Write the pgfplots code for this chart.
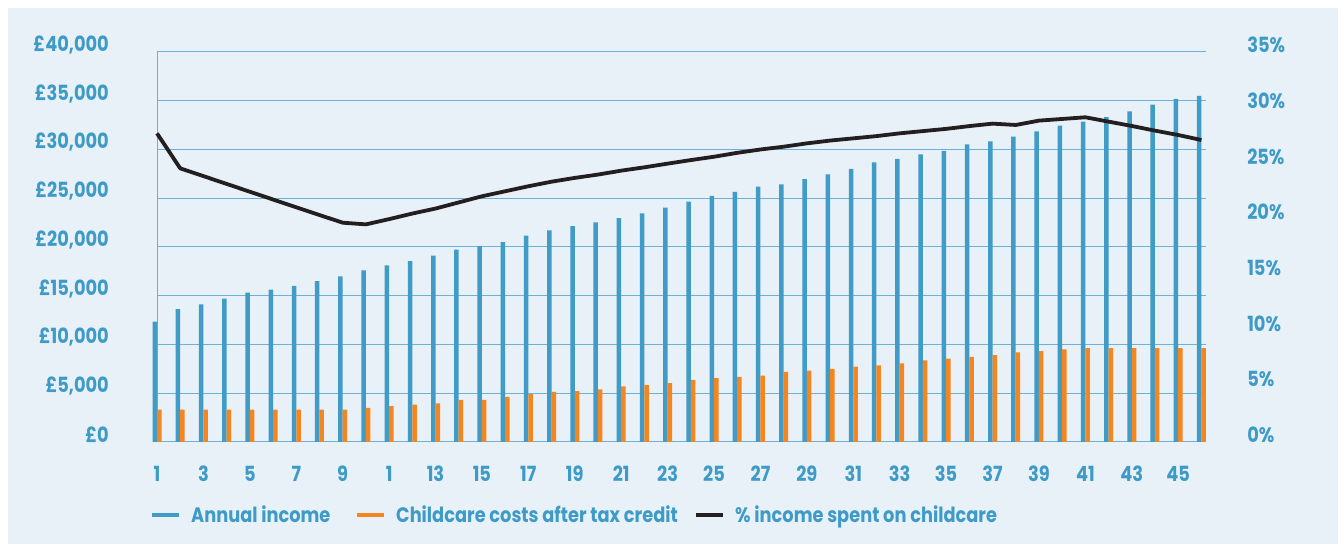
\documentclass[border=0pt]{standalone}
\usepackage{pgfplots}
\usepackage{pgfplotstable}
\pgfplotsset{compat=1.18}
\usepackage{fontspec}
\setmainfont{Poppins}[FakeStretch=0.85]
\definecolor{bg}{RGB}{232,241,247}
\definecolor{cblue}{RGB}{64,156,198}
\definecolor{ctext}{RGB}{62,155,199}
\definecolor{cgrid}{RGB}{107,178,214}
\definecolor{corange}{RGB}{245,134,31}
\definecolor{cline}{RGB}{35,31,32}
\pgfplotstableread{
cat inc care pct
1 12340 3310 27.7
2 13640 3310 24.56
3 14120 3310 23.86
4 14700 3310 23.16
5 15320 3310 22.46
6 15620 3310 21.76
7 16000 3310 21.06
8 16510 3310 20.37
9 16990 3310 19.68
10 17610 3490 19.53
11 18120 3690 20.0
12 18560 3830 20.5
13 19110 3970 20.95
14 19720 4310 21.5
15 20100 4310 22.05
16 20500 4620 22.5
17 21160 4920 22.95
18 21710 5130 23.36
19 22150 5230 23.7
20 22530 5400 24.0
21 22970 5710 24.35
22 23450 5850 24.65
23 24030 6050 24.98
24 24650 6360 25.3
25 25230 6560 25.6
26 25640 6670 25.95
27 26190 6800 26.25
28 26430 7180 26.5
29 26970 7320 26.8
30 27450 7490 27.05
31 28000 7730 27.25
32 28680 7860 27.45
33 29030 8070 27.7
34 29500 8380 27.9
35 29850 8550 28.1
36 30530 8720 28.35
37 30840 8920 28.57
38 31320 9200 28.45
39 31860 9330 28.84
40 32440 9510 28.99
41 32850 9640 29.14
42 33330 9640 28.75
43 33910 9640 28.36
44 34600 9640 27.94
45 35180 9640 27.55
46 35490 9640 27.1
}\datatable
\newcommand{\lblfont}{\fontsize{21}{24}\selectfont\bfseries}
\begin{document}
\begin{tikzpicture}[x=1bp,y=1bp]
\fill[white] (0,0) rectangle (1338,544);
\fill[bg] (8,0) rectangle (1338,536);
\begin{axis}[
  at={(157bp,102bp)}, anchor=south west,
  scale only axis, width=1049bp, height=390bp,
  xmin=1, xmax=46.2, ymin=0, ymax=40000,
  clip=false,
  scaled y ticks=false,
  axis x line*=bottom, axis y line*=left,
  axis line style={cgrid, line width=1bp, -},
  major tick length=0pt,
  ymajorgrids, grid style={cgrid, line width=1bp},
  ytick={0,5000,10000,15000,20000,25000,30000,35000,40000},
  yticklabels={{£0},{£5,000},{£10,000},{£15,000},{£20,000},{£25,000},{£30,000},{£35,000},{£40,000}},
  xtick={1,3,5,7,9,11,13,15,17,19,21,23,25,27,29,31,33,35,37,39,41,43,45},
  xticklabels={1,3,5,7,9,1,13,15,17,19,21,23,25,27,29,31,33,35,37,39,41,43,45},
  yticklabel style={font=\lblfont, text=ctext, anchor=east, inner sep=0pt, xshift=-48bp, yshift=7bp},
  xticklabel style={font=\lblfont, text=ctext, anchor=center, inner sep=0pt, yshift=-32bp},
  ybar=0pt, bar width=4.5bp,
  legend columns=3,
  legend style={at={(axis description cs:0,0)}, anchor=west, xshift=-7bp, yshift=-73bp,
    draw=none, fill=none, inner sep=0pt, font=\lblfont, text=ctext,
    nodes={inner sep=0pt},
    /tikz/every odd column/.append style={column sep=10bp},
    /tikz/every even column/.append style={column sep=0bp}},
]
\addplot[draw=none, fill=cblue,
  legend image code/.code={\draw[line width=4bp, cblue] (0bp,0bp) -- (27bp,0bp);}]
  table[x=cat, y=inc] {\datatable};
\addlegendentry{\makebox[164bp][l]{Annual income}}
\addplot[draw=none, fill=corange,
  legend image code/.code={\draw[line width=4bp, corange] (0bp,0bp) -- (27bp,0bp);}]
  table[x=cat, y=care] {\datatable};
\addlegendentry{\makebox[298bp][l]{Childcare costs after tax credit}}
\addlegendimage{legend image code/.code={\draw[line width=4bp, cline] (0bp,0bp) -- (27bp,0bp);}}
\addlegendentry{\% income spent on childcare}
\end{axis}
\begin{axis}[
  at={(157bp,102bp)}, anchor=south west,
  scale only axis, width=1049bp, height=390bp,
  xmin=1, xmax=46.2, ymin=0, ymax=35,
  clip=false,
  axis x line=none, axis y line*=right,
  y axis line style={draw=none},
  major tick length=0pt,
  ytick={0,5,10,15,20,25,30,35},
  yticklabels={0\%,5\%,10\%,15\%,20\%,25\%,30\%,35\%},
  yticklabel style={font=\lblfont, text=ctext, anchor=west, inner sep=0pt, xshift=41bp, yshift=7bp},
]
\addplot[cline, line width=3.8bp, line join=round, mark=none] table[x=cat, y=pct] {\datatable};
\end{axis}
\end{tikzpicture}
\end{document}
